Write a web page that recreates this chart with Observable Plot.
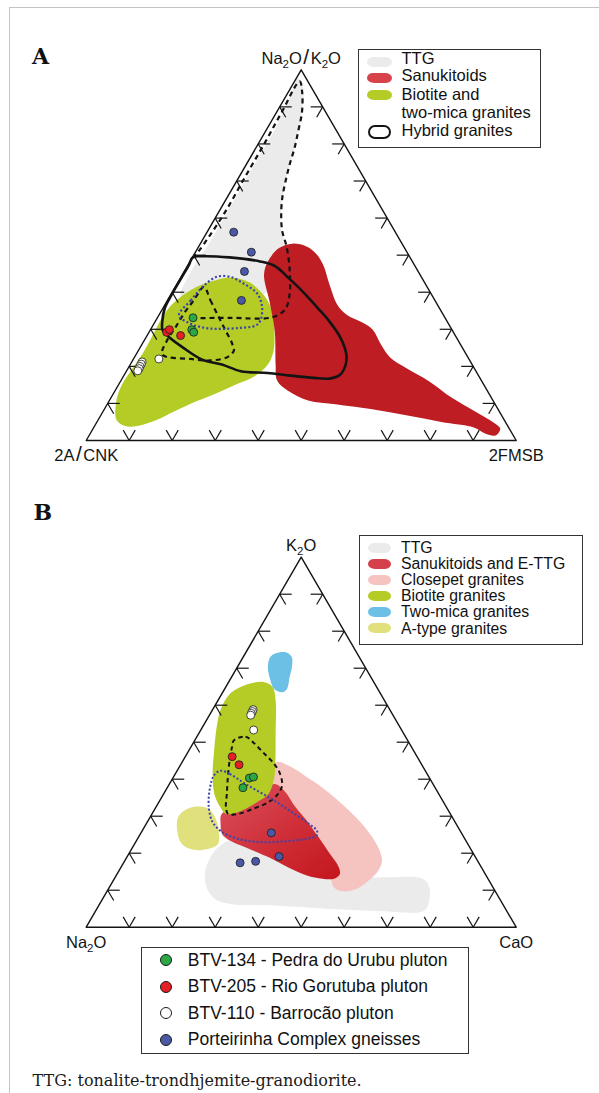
<!DOCTYPE html>
<html>
<head>
<meta charset="utf-8">
<script src="https://cdn.jsdelivr.net/npm/d3@7"></script>
<script src="https://cdn.jsdelivr.net/npm/@observablehq/plot@0.6"></script>
<style>
  html, body { margin: 0; padding: 0; background: #fff; }
  #page { position: relative; width: 599px; height: 1093px; overflow: hidden;
          font-family: "Liberation Sans", Arial, sans-serif; color: #111; }
  .frame { position: absolute; left: 9px; top: 7px; width: 700px; height: 1200px;
           border-left: 1.5px solid #c4c4c4; border-top: 1.5px solid #c4c4c4; z-index: 5; pointer-events: none; }
  .plabel { position: absolute; font-family: "DejaVu Serif", serif; font-weight: bold;
            font-size: 22px; line-height: 22px; }
  .legend { position: absolute; border: 1.2px solid #333; box-sizing: border-box; background: #fff; }
  .legend .t { position: absolute; white-space: nowrap; color: #111; }
  .legend .sw { position: absolute; }
  .caption { position: absolute; font-family: "DejaVu Serif", serif; font-size: 16px; line-height: 16px; white-space: nowrap; color: #1a1a1a; }
</style>
</head>
<body>
<div id="page">
  <div class="plabel" style="left:32px;top:44.7px">A</div>
  <div class="plabel" style="left:33.5px;top:501.4px">B</div>
  <div class="caption" style="left:32.6px;top:1072.5px">TTG: tonalite-trondhjemite-granodiorite.</div>
  <div class="frame"></div>
</div>
<script>
// ---------- tick positions and vertex labels ----------
const TICKS = [10, 20, 30, 40, 50, 60, 70, 80, 90];
const labelsA = ["Na2O/K2O", "2A/CNK", "2FMSB"];   // apex, left, right
const labelsB = ["K2O", "Na2O", "CaO"];

// ---------- Panel A (values: [apex %, right-vertex %]; left % = 100 - apex - right) ----------
const ttgFieldA = [[97.8,0.3],[95.1,2.9],[88.8,5.8],[83.4,7.6],[77.1,9.5],[70.8,11.1],[64.5,13.3],[59.1,15.6],
  [55.5,17.9],[52.8,20.3],[47.4,21.2],[40.0,22.0],[38.5,14.1],[38.5,2.8],[45.6,1.6],[52.8,2.0],[62.7,2.0],
  [73.5,1.9],[84.3,1.9],[93.3,0.9]];
const biotiteFieldA = [[44.0,11.3],[42.8,16.3],[39.8,21.0],[36.7,24.3],[33.1,27.0],[28.6,29.5],[24.1,31.5],
  [20.5,32.0],[17.3,30.5],[14.8,26.8],[12.3,23.2],[10.2,19.7],[8.0,16.8],[5.5,13.6],[4.0,10.2],[3.9,7.1],
  [5.5,4.3],[10.6,1.7],[14.6,0.8],[19.1,1.0],[23.6,1.4],[29.5,1.2],[34.0,1.1],[37.6,2.0],[40.7,4.1],[42.8,7.4]];
const sanukitoidFieldA = [[53.1,21.4],[52.4,24.9],[50.6,28.0],[47.4,31.4],[42.0,35.6],[36.7,40.0],[34.0,43.5],
  [31.7,48.6],[29.9,51.7],[25.9,55.6],[22.3,59.6],[19.6,64.5],[16.0,71.7],[11.5,79.3],[7.9,86.4],[4.8,92.4],
  [3.2,94.7],[1.35,94.5],[1.8,92.0],[3.5,88.4],[5.0,80.1],[6.8,71.0],[8.5,61.9],[9.8,53.1],[10.8,46.2],
  [13.5,40.1],[16.2,36.3],[20.5,33.8],[29.5,29.1],[37.6,23.8],[44.7,19.0],[48.3,18.1],[51.9,18.9]];
const hybridFieldA = [[49.4,0.1],[49.7,2.2],[49.4,8.6],[48.3,16.3],[47.0,20.5],[43.8,25.2],[40.3,30.1],
  [35.8,35.9],[32.2,40.4],[27.7,45.3],[23.2,48.9],[20.5,50.1],[17.8,50.2],[16.7,48.2],[16.9,44.5],[17.5,38.8],
  [18.2,33.1],[18.7,26.6],[20.5,21.3],[21.8,16.1],[25.0,10.1],[27.7,5.6],[29.9,2.8],[32.2,1.6],[35.8,0.4],
  [39.4,0.2],[43.8,0.2],[47.4,0.2]];
const ttgBoundaryA = [[33.0,8.0],[33.1,16.8],[33.2,26.5],[35.3,28.6],[39.4,27.6],[43.8,25.5],[48.3,23.0],
  [52.8,20.1],[56.4,17.4],[60.9,14.9],[65.4,12.9],[69.9,11.4],[74.4,10.1],[78.9,9.0],[83.4,7.6],[88.8,5.8],
  [94.2,3.1],[96.9,1.2],[88.3,1.2],[79.8,1.4],[70.8,1.4],[61.8,1.5],[55.5,1.1],[51.0,0.6],[49.4,0.1]];
const dashedFieldA = [[41.4,6.7],[37.8,10.0],[30.6,16.7],[26.1,20.9],[24.3,22.2],[22.5,21.6],[21.6,18.1],
  [22.0,13.3],[23.2,6.1],[27.0,5.3],[30.6,5.5],[34.2,5.6],[37.8,6.1]];
const dottedFieldA = [[33.7,4.7],[37.8,5.4],[41.8,6.5],[44.2,8.4],[44.1,11.6],[42.3,15.5],[39.6,20.0],
  [36.0,22.9],[32.4,24.3],[31.0,23.9],[30.4,20.7],[30.1,15.5],[30.6,11.3],[31.9,7.6]];
const porteirinhaA = [[56.2,6.2],[50.8,13.0],[45.6,14.0],[37.8,17.2]];
const btv134A = [[33.1,8.3],[29.9,9.6],[29.2,10.4]];
const btv205A = [[29.2,4.1],[29.9,4.4],[28.3,7.8]];
const btv110A = [[22.0,5.9],[21.2,2.4],[20.6,2.5],[20.0,2.5],[19.4,2.6],[18.8,2.6]];

// ---------- Panel B (values: [K2O %, CaO %]; Na2O % = 100 - K2O - CaO) ----------
const ttgFieldB = [[18.0,19.5],[21.6,19.9],[23.9,23.3],[17.1,42.8],[13.5,51.8],[13.5,62.6],[13.1,71.7],
  [10.8,74.4],[5.4,76.6],[4.1,75.8],[4.3,67.2],[5.0,53.3],[5.9,39.5],[6.3,30.3],[7.7,26.0],[10.8,22.6],[14.4,20.4]];
const closepetFieldB = [[44.6,21.9],[43.2,26.2],[40.5,31.1],[36.9,37.4],[32.4,44.1],[27.0,51.3],[21.6,57.1],
  [18.0,59.8],[15.3,60.3],[12.6,59.4],[10.4,57.8],[9.7,54.6],[10.8,52.2],[13.5,50.0],[16.2,46.8],[19.8,41.4],
  [24.3,35.7],[29.7,29.4],[34.2,25.7],[41.4,22.1]];
const sanukitoidFieldB = [[30.6,16.2],[32.9,18.8],[36.0,22.6],[38.7,24.4],[36.9,27.6],[32.4,32.5],[28.8,36.9],
  [24.3,41.9],[19.8,46.8],[16.7,50.2],[14.4,51.8],[13.1,51.1],[13.1,48.4],[14.0,44.3],[16.2,38.8],[18.9,33.0],
  [21.6,26.2],[23.4,21.7],[25.2,19.0],[27.9,17.3]];
const biotiteFieldB = [[63.1,1.9],[65.8,5.0],[66.2,8.4],[64.9,10.9],[61.3,13.4],[52.3,17.9],[45.0,21.5],
  [40.5,23.5],[36.0,24.4],[33.8,22.8],[31.5,20.4],[30.6,17.2],[32.4,15.0],[36.0,11.8],[41.4,8.7],[47.7,5.9],
  [54.1,3.3],[58.6,1.9]];
const twoMicaFieldB = [[73.0,6.3],[74.1,7.2],[74.3,9.3],[73.0,11.3],[70.3,12.7],[67.6,13.5],[64.4,14.5],
  [63.5,13.8],[64.4,11.5],[66.7,9.5],[70.3,7.1]];
const aTypeFieldB = [[31.5,7.0],[32.6,9.1],[32.0,12.5],[28.8,15.9],[25.2,18.3],[22.5,19.4],[21.2,17.9],
  [20.9,14.5],[22.5,11.0],[26.1,8.1],[29.7,6.5]];
const dashedFieldB = [[50.5,9.1],[51.5,11.3],[50.0,13.8],[46.8,18.1],[44.1,21.7],[41.4,24.4],[38.3,26.4],
  [36.0,26.6],[33.8,25.5],[32.0,22.8],[30.6,19.9],[30.6,17.7],[32.4,16.3],[36.0,14.7],[41.4,12.3],[45.9,10.5],[48.6,9.6]];
const dottedFieldB = [[42.3,10.1],[41.4,12.7],[38.7,17.7],[35.1,24.9],[31.1,32.3],[27.9,37.9],[26.1,40.6],
  [24.8,41.2],[23.9,39.4],[23.2,34.4],[23.0,29.1],[23.9,23.3],[25.7,18.8],[28.4,15.2],[32.4,12.3],[37.8,9.9],[41.0,9.2]];
const porteirinhaB = [[25.5,30.3],[19.1,35.3],[17.4,27.1],[17.8,30.5]];
const btv134B = [[40.3,17.8],[40.6,18.6],[37.7,17.6]];
const btv205B = [[46.1,10.9],[43.9,13.6]];
const btv110B = [[53.3,12.3],[58.8,9.4],[58.3,9.5],[57.8,9.5],[57.3,9.6]];

// ---------- legend texts ----------
const legendALabels = ["TTG", "Sanukitoids", "Biotite and", "two-mica granites", "Hybrid granites"];
const legendBLabels = ["TTG", "Sanukitoids and E-TTG", "Closepet granites", "Biotite granites", "Two-mica granites", "A-type granites"];
const sampleLabels = ["BTV-134 - Pedra do Urubu pluton", "BTV-205 - Rio Gorutuba pluton", "BTV-110 - Barrocão pluton", "Porteirinha Complex gneisses"];

// ---------- styles ----------
const C = {
  ttg: "#ebebec", sanukA: "#bd1d23", sanukSw: "#d8434b", biotite: "#b5cc26",
  closepet: "#f6c4c0", twoMica: "#6cc0e5", aType: "#e0e07c",
  green: "#2aa845", red: "#e51f26", white: "#ffffff", blue: "#4b58a6", dotBlue: "#3a44ad", ink: "#141414"
};

// ---------- helpers ----------
const xy = ([t, r]) => ({x: (r + t / 2) / 100, y: t / 100});
const poly = pts => pts.map(xy);

function tickLinks(len) {
  const out = [];
  for (const k of TICKS) {
    const f = k / 100;
    out.push({x1: f, y1: 0, x2: f - 0.5 * len, y2: len}, {x1: f, y1: 0, x2: f + 0.5 * len, y2: len});
    out.push({x1: f / 2, y1: f, x2: f / 2 + len, y2: f}, {x1: f / 2, y1: f, x2: f / 2 + 0.5 * len, y2: f - len});
    out.push({x1: 1 - f / 2, y1: f, x2: 1 - f / 2 - len, y2: f}, {x1: 1 - f / 2, y1: f, x2: 1 - f / 2 - 0.5 * len, y2: f - len});
  }
  return out;
}
const field = (pts, fill) => Plot.line(poly(pts), {x: "x", y: "y", fill, stroke: "none", curve: "catmull-rom-closed"});
const outline = (pts, stroke, strokeWidth, dash, closed = true) =>
  Plot.line(poly(pts), {x: "x", y: "y", stroke, strokeWidth, strokeDasharray: dash, strokeLinecap: "butt",
    curve: closed ? "catmull-rom-closed" : "catmull-rom"});
const dots = (pts, fill) => Plot.dot(poly(pts), {x: "x", y: "y", r: 4, fill, stroke: "#1a1a1a", strokeWidth: 0.8});

function triangleMarks(labels) {
  const verts = [{x: 0.5, y: 1, label: labels[0]}, {x: 0, y: 0, label: labels[1]}, {x: 1, y: 0, label: labels[2]}];
  return [
    Plot.line(verts, {x: "x", y: "y", curve: "linear-closed", stroke: C.ink, strokeWidth: 1.4}),
    Plot.link(tickLinks(0.028), {x1: "x1", y1: "y1", x2: "x2", y2: "y2", stroke: C.ink, strokeWidth: 1.2}),
    Plot.text(verts.slice(0, 1), {x: "x", y: "y", text: "label", lineAnchor: "bottom", dy: -6, fontSize: 16.5, fill: C.ink}),
    Plot.text(verts.slice(1), {x: "x", y: "y", text: "label", lineAnchor: "top", dy: 9, fontSize: 16.5, fill: C.ink})
  ];
}

function richLabels(svg) {
  d3.select(svg).selectAll('g[aria-label="text"] text').each(function () {
    const s = this.textContent;
    const sel = d3.select(this);
    sel.text(null);
    let down = false;
    for (let i = 0; i < s.length; i++) {
      const c = s[i];
      const isSub = /\d/.test(c) && i > 0 && /[A-Za-z]/.test(s[i - 1]);
      const t = sel.append("tspan").text(c);
      if (isSub) { t.attr("dy", 4).attr("font-size", 11.5); down = true; }
      else {
        if (down) { t.attr("dy", -4); down = false; }
        if (c === "/") t.attr("font-size", 21).attr("font-weight", 300).attr("dx", 1.5);
        else if (i > 0 && s[i - 1] === "/") t.attr("dx", 1.5);
      }
    }
  });
}

const gradientDefs = () => {
  const ns = "http://www.w3.org/2000/svg";
  const g = document.createElementNS(ns, "defs");
  g.innerHTML = '<linearGradient id="sanukGrad" x1="0" y1="0" x2="1" y2="1">' +
    '<stop offset="0" stop-color="#d9525f"/><stop offset="0.5" stop-color="#d0303a"/>' +
    '<stop offset="1" stop-color="#c4161c"/></linearGradient>';
  return g;
};

const common = {
  width: 599, marginLeft: 85.7, marginRight: 83.3,
  x: {domain: [0, 1], axis: null}, y: {domain: [0, 1], axis: null},
  style: {background: "transparent", fontFamily: "'Liberation Sans', Arial, sans-serif", overflow: "visible"}
};

// ---------- Panel A ----------
const svgA = Plot.plot({
  ...common, height: 480, marginTop: 69.3, marginBottom: 40,
  marks: [
    field(ttgFieldA, C.ttg),
    field(biotiteFieldA, C.biotite),
    field(sanukitoidFieldA, C.sanukA),
    outline(ttgBoundaryA, C.ink, 2.2, "5,4", false),
    outline(dashedFieldA, C.ink, 2.2, "5,4"),
    outline(dottedFieldA, C.dotBlue, 2.2, "2,2.2"),
    outline(hybridFieldA, C.ink, 2.6),
    ...triangleMarks(labelsA),
    dots(porteirinhaA, C.blue),
    dots(btv110A, C.white),
    dots(btv134A, C.green),
    dots(btv205A, C.red)
  ]
});

// ---------- Panel B ----------
const svgB = Plot.plot({
  ...common, height: 500, marginTop: 76.7, marginBottom: 53.3,
  marks: [
    gradientDefs,
    field(ttgFieldB, C.ttg),
    field(closepetFieldB, C.closepet),
    field(sanukitoidFieldB, "url(#sanukGrad)"),
    field(biotiteFieldB, C.biotite),
    field(twoMicaFieldB, C.twoMica),
    field(aTypeFieldB, C.aType),
    outline(dashedFieldB, C.ink, 2, "4.5,3.5"),
    outline(dottedFieldB, C.dotBlue, 2, "2,2"),
    ...triangleMarks(labelsB),
    dots(porteirinhaB, C.blue),
    dots(btv110B, C.white),
    dots(btv205B, C.red),
    dots(btv134B, C.green)
  ]
});

richLabels(svgA);
richLabels(svgB);

const page = document.getElementById("page");
[[svgA, 0], [svgB, 480]].forEach(([s, top]) => {
  s.style.position = "absolute"; s.style.left = "0px"; s.style.top = top + "px";
  page.insertBefore(s, page.firstChild);
});

// ---------- HTML legends ----------
function mk(tag, cls, style, text) {
  const e = document.createElement(tag);
  if (cls) e.className = cls;
  Object.assign(e.style, style);
  if (text != null) e.textContent = text;
  return e;
}
function legendBox(box, labels, fontSize, lineH, textLeft, baselines, swatch) {
  const L = mk("div", "legend", {left: box[0] + "px", top: box[1] + "px", width: box[2] + "px", height: box[3] + "px"});
  const off = (lineH - fontSize * 1.117) / 2 + fontSize * 0.905;
  labels.forEach((t, i) => {
    L.append(mk("div", "t", {left: textLeft + "px", top: (baselines[i] - off - 1.2) + "px",
      fontSize: fontSize + "px", lineHeight: lineH + "px"}, t));
    const sw = swatch(i, baselines[i]);
    if (sw) L.append(sw);
  });
  page.append(L);
}
const blob = (color, cy, left, w) => mk("div", "sw", {left: left + "px", top: (cy - 5 - 1.2) + "px", width: w + "px",
  height: "10px", borderRadius: "6px 7px 6px 7px / 5px", background: color});

const swA = [C.ttg, C.sanukSw, C.biotite, null, "hybrid"];
const swACenter = [13.3, 29.3, 46, null, 83.3];
legendBox([357.5, 49, 183.5, 98.7], legendALabels, 16.5, 15.5, 43, [16, 32.7, 51.7, 70, 87.7], (i) => {
  if (!swA[i]) return null;
  if (swA[i] === "hybrid") return mk("div", "sw", {left: "9px", top: (swACenter[i] - 7 - 1.2) + "px", width: "23px",
    height: "14px", boxSizing: "border-box", border: "2.6px solid #141414", borderRadius: "7px"});
  return blob(swA[i], swACenter[i], 8.5, 25);
});

const swB = [C.ttg, "#d4404b", C.closepet, C.biotite, C.twoMica, C.aType];
legendBox([359, 535, 223.7, 110], legendBLabels, 15.8, 13.5, 41, [18.5, 34.6, 50.7, 66.8, 82.9, 99],
  (i, b) => blob(swB[i], b - 5.5, 7.7, 23.3));

const swS = [C.green, C.red, C.white, C.blue];
legendBox([140.8, 946.7, 328, 107.6], sampleLabels, 17.5, 20, 46, [19.3, 45.8, 72.3, 98.8],
  (i, b) => mk("div", "sw", {left: (24.2 - 6) + "px", top: (b - 5.5 - 6 - 1.2) + "px", width: "12px", height: "12px",
    boxSizing: "border-box", borderRadius: "50%", background: swS[i], border: "1px solid #1a1a1a"}));
</script>
</body>
</html>
